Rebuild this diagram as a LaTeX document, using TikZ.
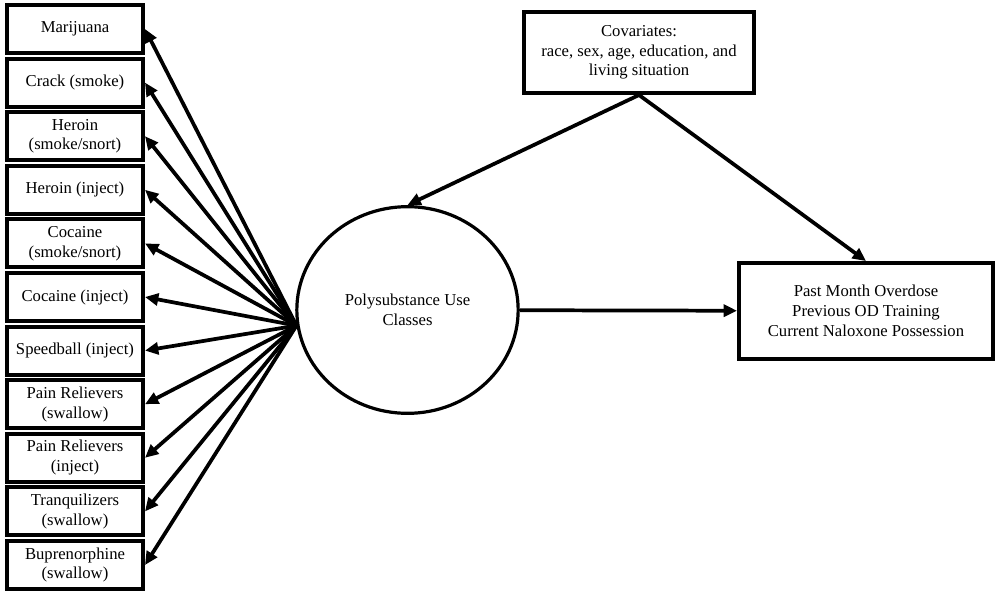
\documentclass[tikz,border=0pt]{standalone}
\usepackage{fontspec}
\setmainfont{Liberation Serif}
\usetikzlibrary{shapes.geometric,arrows.meta}

\begin{document}
\begin{tikzpicture}
[   x=0.75pt, y=-0.75pt,
    every node/.style={font=\fontsize{12.5}{14.8}\selectfont, align=center, inner sep=0pt},
    drug/.style={draw=black, line width=3pt, minimum width=102pt, minimum height=36pt},
    bigbox/.style={draw=black, line width=3pt},
    ptr/.style={line width=2.8pt, -{Triangle[length=10pt,width=9pt]}},
]
    \useasboundingbox (0,0) rectangle (1000,596);
    %
    \node[draw=black, line width=2.4pt, ellipse, minimum width=166pt, minimum height=155pt] (poly) at (407.5,310) {Polysubstance Use\\Classes};
    \node[bigbox, minimum width=172.5pt, minimum height=60.75pt] (cov) at (639,52.5) {Covariates:\\race, sex, age, education, and\\living situation};
    \node[bigbox, minimum width=190.5pt, minimum height=72pt] (out) at (866,311) {Past Month Overdose\\Previous OD Training\\Current Naloxone Possession};

    \draw[ptr] (cov.south) -- (poly.north);
    \draw[ptr] (cov.south) -- (out.north);
    \draw[ptr] (poly) -- (out);

    \foreach \lbl [count=\i] in {Marijuana, Crack (smoke), {Heroin\\(smoke/snort)}, Heroin (inject),
        {Cocaine\\(smoke/snort)}, Cocaine (inject), Speedball (inject), {Pain Relievers\\(swallow)},
        {Pain Relievers\\(inject)}, {Tranquilizers\\(swallow)}, {Buprenorphine\\(swallow)}}
    {
        \node[drug] (d-\i) at (75,{29+(\i-1)*53.6}) {\lbl};
        \draw[ptr] (poly.188) -- (d-\i.east);
    }
\end{tikzpicture}
\end{document}
